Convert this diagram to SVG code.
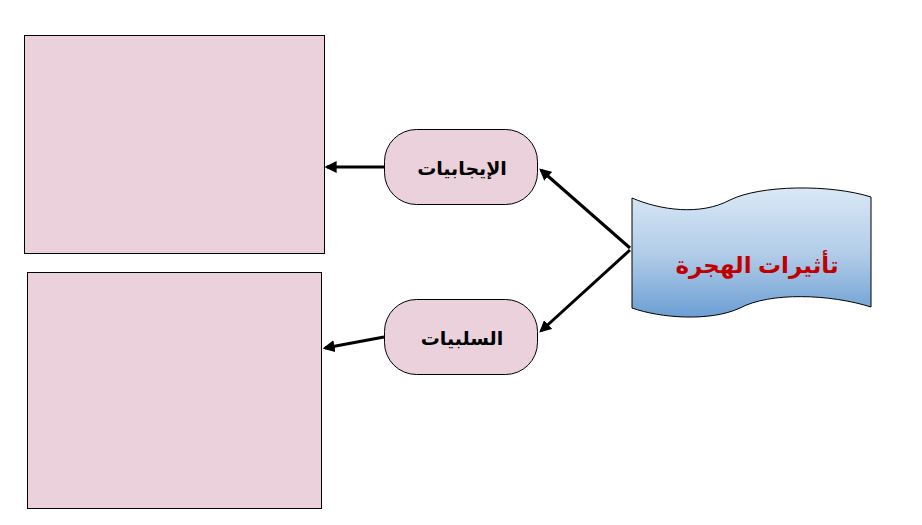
<svg xmlns="http://www.w3.org/2000/svg" width="922" height="525" viewBox="0 0 922 525">
<style>
.box{fill:#ead1dc;stroke:#000;stroke-width:1}
.pill{fill:#ead1dc;stroke:#000;stroke-width:1}
.lbl{font-family:"Liberation Sans","DejaVu Sans",sans-serif;font-weight:bold;font-size:19px;fill:#000;text-anchor:middle}
.title{font-family:"Liberation Sans","DejaVu Sans",sans-serif;font-weight:bold;font-size:23px;fill:#c00000;text-anchor:middle}
.conn{stroke:#000;stroke-width:3;fill:none;marker-end:url(#ah)}
</style>
<defs>
<marker id="ah" viewBox="0 0 10 10" refX="8" refY="5" markerWidth="4" markerHeight="4" orient="auto" markerUnits="strokeWidth">
<path d="M0,0 L10,5 L0,10 z" fill="#000"/>
</marker>
<linearGradient id="bg" x1="0" y1="0" x2="0" y2="1">
<stop offset="0" stop-color="#dae8f6"/>
<stop offset="0.5" stop-color="#b3cde9"/>
<stop offset="1" stop-color="#6c9fd3"/>
</linearGradient>
</defs>
<rect width="922" height="525" fill="#fff"/>
<g id="box-top"><rect class="box" x="24.5" y="35.5" width="300" height="218"/></g>
<g id="box-bottom"><rect class="box" x="27.5" y="272.5" width="294" height="236"/></g>
<g id="pos"><rect class="pill" x="384.5" y="129.5" width="153" height="75" rx="32" ry="32"/><text class="lbl" x="462" y="175" direction="rtl">الإيجابيات</text></g>
<g id="neg"><rect class="pill" x="384.5" y="299.5" width="153" height="75" rx="32" ry="32"/><text class="lbl" x="462" y="345" direction="rtl">السلبيات</text></g>
<g id="effects">
<path d="M632,198 C660,210 700,216 730,200 C760,185 830,184 871,197 L871,307 C830,294 770,292 740,308 C710,322 660,318 632,308 Z" fill="url(#bg)" stroke="#000" stroke-width="1"/>
<text class="title" x="757" y="273" direction="rtl">تأثيرات الهجرة</text>
</g>
<g id="connectors">
<line class="conn" x1="630" y1="248" x2="541" y2="170"/>
<line class="conn" x1="630" y1="250" x2="541" y2="331"/>
<line class="conn" x1="384" y1="167" x2="327" y2="167"/>
<line class="conn" x1="384" y1="337" x2="325" y2="348"/>
</g>
</svg>
